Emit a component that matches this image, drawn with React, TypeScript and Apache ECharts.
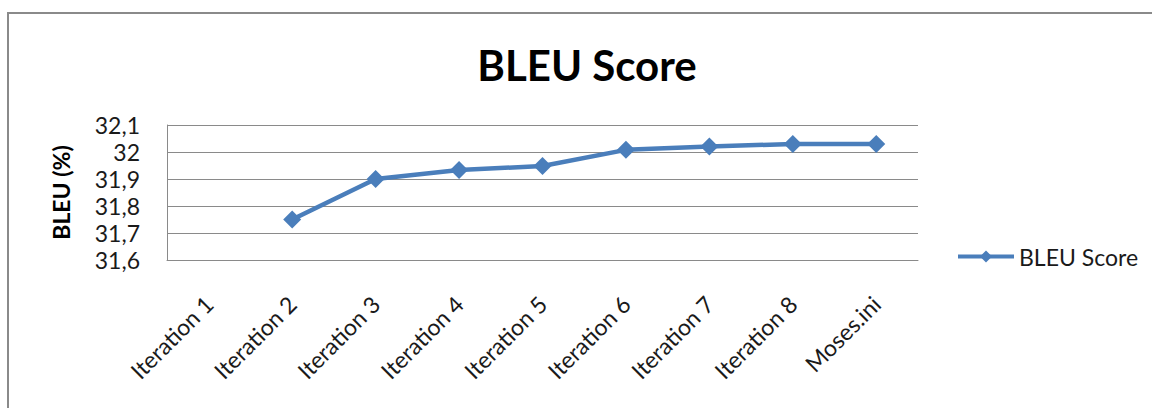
import React, { useEffect, useRef } from "react";
import * as echarts from "echarts";

const categories = [
  "Iteration 1",
  "Iteration 2",
  "Iteration 3",
  "Iteration 4",
  "Iteration 5",
  "Iteration 6",
  "Iteration 7",
  "Iteration 8",
  "Moses.ini",
];
const bleuValues: (number | null)[] = [null, 31.75, 31.9, 31.933, 31.948, 32.008, 32.02, 32.03, 32.03];
const yMin = 31.6;
const yMax = 32.1;
const yStep = 0.1;

const FONT = "Lato, 'Open Sans', sans-serif";
const BLUE = "#4a7ebb";
const GRAY = "#8a8a8a";
const TEXT = "#1a1a1a";

export default function App() {
  const ref = useRef<HTMLDivElement>(null);
  useEffect(() => {
    if (!ref.current) return;
    const chart = echarts.init(ref.current, undefined, { renderer: "svg" });
    chart.setOption({
      animation: false,
      backgroundColor: "#ffffff",
      textStyle: { fontFamily: FONT },
      title: {
        text: "BLEU Score",
        left: 582,
        top: 39,
        textAlign: "center",
        textStyle: { fontFamily: FONT, fontSize: 42, fontWeight: "bold", color: "#000" },
      },
      graphic: [
        {
          type: "rect",
          shape: { x: 8, y: 13, width: 1200, height: 440 },
          style: { fill: "none", stroke: GRAY, lineWidth: 2 },
          silent: true,
        },
      ],
      legend: {
        left: 951,
        top: 240,
        itemWidth: 56,
        itemHeight: 15,
        itemGap: 6,
        data: ["BLEU Score"],
        lineStyle: { width: 4 },
        textStyle: { fontFamily: FONT, fontSize: 23, color: TEXT },
      },
      grid: { left: 167, top: 125, right: 234, bottom: 148, containLabel: false },
      xAxis: {
        type: "category",
        data: categories,
        boundaryGap: true,
        axisLine: { show: true, lineStyle: { color: GRAY, width: 1 } },
        axisTick: { show: false },
        axisLabel: {
          rotate: 45,
          interval: 0,
          margin: 40,
          fontFamily: FONT,
          fontSize: 23,
          color: TEXT,
        },
      },
      yAxis: {
        type: "value",
        min: yMin,
        max: yMax,
        interval: yStep,
        name: "BLEU (%)",
        nameLocation: "middle",
        nameGap: 95,
        nameRotate: 90,
        nameTextStyle: { fontFamily: FONT, fontSize: 23, fontWeight: "bold", color: "#000" },
        axisLine: { show: true, lineStyle: { color: GRAY, width: 1 } },
        axisTick: { show: false },
        splitLine: { show: true, lineStyle: { color: GRAY, width: 1 } },
        axisLabel: {
          margin: 27,
          fontFamily: FONT,
          fontSize: 23,
          color: TEXT,
          formatter: (v: number) => String(Math.round(v * 10) / 10).replace(".", ","),
        },
      },
      series: [
        {
          name: "BLEU Score",
          type: "line",
          data: bleuValues,
          connectNulls: false,
          symbol: "diamond",
          symbolSize: 18,
          showSymbol: true,
          lineStyle: { color: BLUE, width: 4.5 },
          itemStyle: { color: BLUE },
        },
      ],
    });
    return () => chart.dispose();
  }, []);
  return (
    <div
      ref={ref}
      style={{ position: "fixed", left: 0, top: 0, width: 1152, height: 408 }}
    />
  );
}
